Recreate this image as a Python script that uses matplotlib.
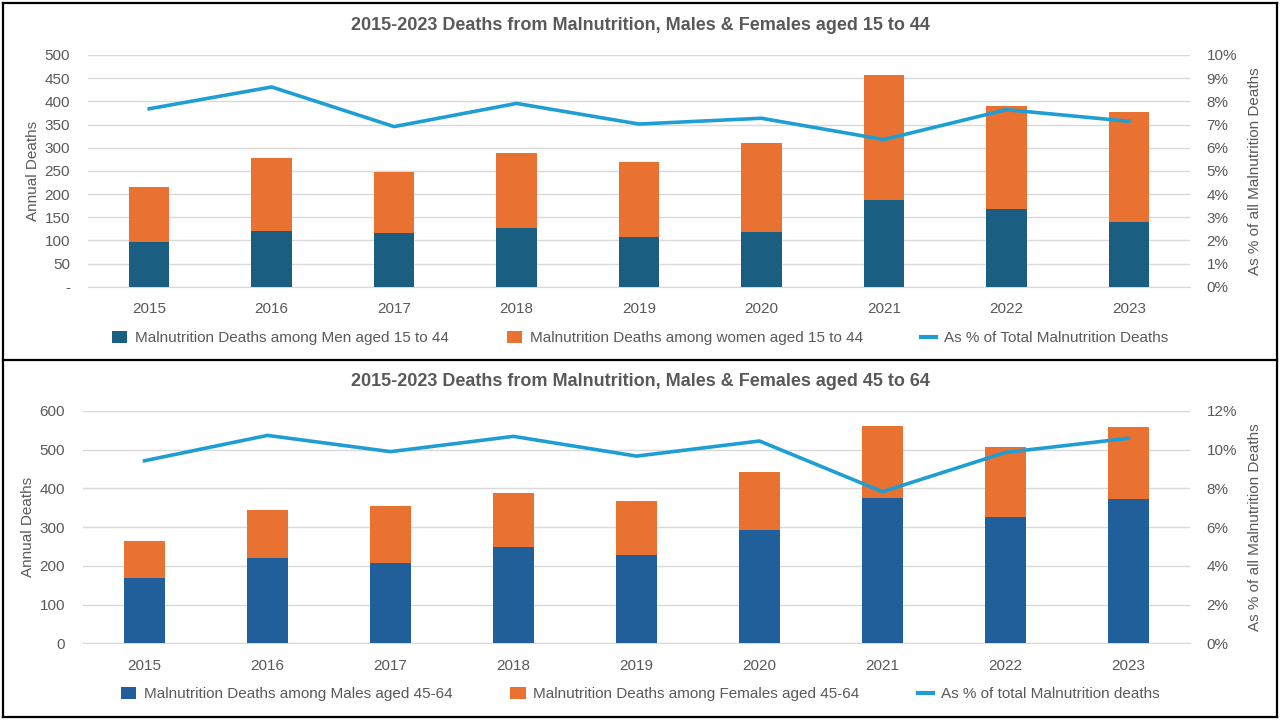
import matplotlib
matplotlib.use("Agg")
import matplotlib.pyplot as plt
from matplotlib.lines import Line2D
from matplotlib.ticker import FuncFormatter, MultipleLocator
import numpy as np

years = ["2015", "2016", "2017", "2018", "2019", "2020", "2021", "2022", "2023"]

# Chart 1: aged 15 to 44
men_15_44 = [96, 120, 116, 127, 107, 118, 187, 168, 140]
women_15_44 = [119, 158, 132, 162, 162, 192, 269, 222, 237]
pct_15_44 = [7.68, 8.62, 6.91, 7.91, 7.02, 7.27, 6.35, 7.64, 7.14]

# Chart 2: aged 45 to 64
males_45_64 = [169, 220, 207, 249, 228, 293, 375, 326, 373]
females_45_64 = [95, 124, 148, 139, 140, 149, 186, 181, 186]
pct_45_64 = [9.43, 10.74, 9.90, 10.69, 9.67, 10.45, 7.83, 9.86, 10.59]

titles = ["2015-2023 Deaths from Malnutrition, Males & Females aged 15 to 44",
          "2015-2023 Deaths from Malnutrition, Males & Females aged 45 to 64"]
legend1 = ["Malnutrition Deaths among Men aged 15 to 44",
           "Malnutrition Deaths among women aged 15 to 44",
           "As % of Total Malnutrition Deaths"]
legend2 = ["Malnutrition Deaths among Males aged 45-64",
           "Malnutrition Deaths among Females aged 45-64",
           "As % of total Malnutrition deaths"]

W, H = 1280, 720
fig = plt.figure(figsize=(12.8, 7.2), dpi=100)
fig.patch.set_facecolor("white")

FONT = "Liberation Sans"
GREY = "#595959"
GRID = "#D9D9D9"
ORANGE = "#E97132"
LINEC = "#1F9ED3"


def fx(px):
    return px / W


def fy(py):
    return 1 - py / H


def make_panel(left, right, top, bottom, ymax, ystep, pmax, pstep, men, women, pct,
               male_color, title, title_y, legend_labels, legend_y, dash_zero, colsp):
    ax = fig.add_axes([fx(left), fy(bottom), fx(right - left), (bottom - top) / H])
    x = np.arange(len(years))
    b1 = ax.bar(x, men, width=0.33, color=male_color, zorder=3)
    b2 = ax.bar(x, women, width=0.33, bottom=men, color=ORANGE, zorder=3)
    ax.set_xlim(-0.5, len(years) - 0.5)
    ax.set_ylim(0, ymax)
    ax.yaxis.set_major_locator(MultipleLocator(ystep))
    if dash_zero:
        ax.yaxis.set_major_formatter(FuncFormatter(lambda v, p: "-" if v == 0 else f"{v:.0f}"))
    ax.grid(axis="y", color=GRID, lw=1, zorder=0)
    ax.set_axisbelow(True)
    for s in ["top", "right", "left"]:
        ax.spines[s].set_visible(False)
    ax.spines["bottom"].set_color(GRID)
    ax.set_xticks(x)
    ax.set_xticklabels(years)
    ax.tick_params(axis="both", length=0, colors=GREY, labelsize=11)
    ax.tick_params(axis="x", pad=11)
    ax.tick_params(axis="y", pad=13)
    for lab in ax.get_xticklabels() + ax.get_yticklabels():
        lab.set_family(FONT)
    ax.set_ylabel("Annual Deaths", color=GREY, fontsize=11, family=FONT, labelpad=3)

    ax2 = ax.twinx()
    ln, = ax2.plot(x, np.array(pct) / 100, color=LINEC, lw=2.6, zorder=4)
    ax2.set_ylim(0, pmax / 100)
    ax2.yaxis.set_major_locator(MultipleLocator(pstep / 100))
    ax2.yaxis.set_major_formatter(FuncFormatter(lambda v, p: f"{v * 100:.0f}%"))
    for s in ["top", "right", "left", "bottom"]:
        ax2.spines[s].set_visible(False)
    ax2.tick_params(axis="y", length=0, colors=GREY, labelsize=11, pad=12)
    for lab in ax2.get_yticklabels():
        lab.set_family(FONT)
    ax2.set_ylabel("As % of all Malnutrition Deaths", color=GREY, fontsize=11,
                   family=FONT, labelpad=8)

    fig.text(0.5, fy(title_y), title, ha="center", va="center", fontsize=13,
             fontweight="bold", color=GREY, family=FONT)

    handles = [b1, b2, Line2D([0], [0], color=LINEC, lw=3)]
    leg = fig.legend(handles, legend_labels, loc="center",
                     bbox_to_anchor=(0.5, fy(legend_y)), ncol=3, frameon=False,
                     prop={"family": FONT, "size": 11},
                     handlelength=1.0, handleheight=0.9, handletextpad=0.5,
                     columnspacing=3.8)
    for t in leg.get_texts():
        t.set_color(GREY)
    return ax, ax2


make_panel(88, 1190, 55, 286.7, 500, 50, 10, 1, men_15_44, women_15_44, pct_15_44,
           "#1A5E82", titles[0], 25, legend1, 338, True, 3.8)
make_panel(83, 1190, 411, 643.3, 600, 100, 12, 2, males_45_64, females_45_64, pct_45_64,
           "#215F9A", titles[1], 382, legend2, 694, False, 3.8)

# panel borders
for (x0, y0, x1, y1) in [(3, 3, 1277, 3), (3, 360, 1277, 360), (3, 717, 1277, 717),
                         (3, 3, 3, 717), (1277, 3, 1277, 717)]:
    fig.add_artist(Line2D([fx(x0), fx(x1)], [fy(y0), fy(y1)], color="black", lw=1.6,
                          transform=fig.transFigure))

fig.savefig("out.png", dpi=100, facecolor="white")
